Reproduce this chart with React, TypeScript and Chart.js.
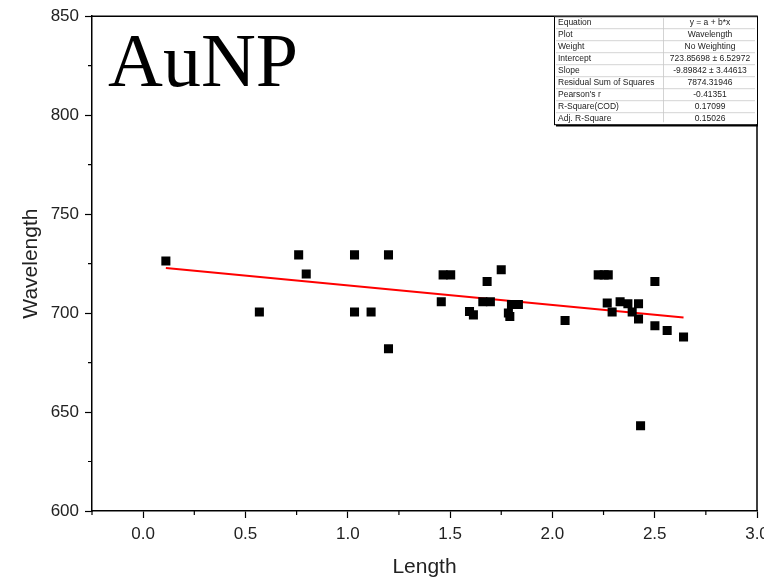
import React, { useEffect, useRef } from 'react';
import { Chart, registerables } from 'chart.js';

Chart.register(...registerables);

// ---- data ----
const lengthValues = [
  0.111, 0.568, 0.760, 0.797, 1.033, 1.199, 1.033, 1.114, 1.199,
  1.457, 1.466, 1.503, 1.750, 1.681, 1.660, 1.697, 1.595, 1.614,
  1.800, 1.834, 1.785, 1.792, 2.062, 2.224, 2.253, 2.273, 2.501,
  2.268, 2.292, 2.331, 2.369, 2.421, 2.390, 2.421, 2.501, 2.561,
  2.641, 2.431,
];
const wavelengthValues = [
  726.3, 700.5, 729.4, 719.7, 729.4, 729.4, 700.5, 700.5, 682.0,
  705.7, 719.3, 719.3, 721.9, 716.0, 705.7, 705.7, 700.8, 699.1,
  704.3, 704.3, 700.0, 698.3, 696.3, 719.3, 719.3, 719.3, 716.0,
  705.1, 700.5, 705.7, 704.7, 704.7, 700.5, 697.0, 693.6, 691.2,
  687.9, 643.1,
];
const fitIntercept = 723.85698;
const fitSlope = -9.89842;

const xTickValues = [0, 0.5, 1, 1.5, 2, 2.5, 3];
const xMinorTickValues = [-0.25, 0.25, 0.75, 1.25, 1.75, 2.25, 2.75];
const yTickValues = [600, 650, 700, 750, 800, 850];
const yMinorTickValues = [625, 675, 725, 775, 825];

const statLabels = [
  'Equation', 'Plot', 'Weight', 'Intercept', 'Slope',
  'Residual Sum of Squares', "Pearson's r", 'R-Square(COD)', 'Adj. R-Square',
];
const statValues = [
  'y = a + b*x', 'Wavelength', 'No Weighting', '723.85698 ± 6.52972',
  '-9.89842 ± 3.44613', '7874.31946', '-0.41351', '0.17099', '0.15026',
];
const panelLabel = 'AuNP';
const xTitle = 'Length';
const yTitle = 'Wavelength';

const SANS = "'Liberation Sans', Arial, sans-serif";

const decorPlugin = {
  id: 'decor',
  afterDraw(chart: any) {
    const { ctx, chartArea: ca, scales } = chart;
    const xs = scales.x;
    const ys = scales.y;
    ctx.save();

    // frame (top & right)
    ctx.strokeStyle = '#000';
    ctx.lineWidth = 1.5;
    ctx.beginPath();
    ctx.moveTo(ca.left, ca.top);
    ctx.lineTo(ca.right, ca.top);
    ctx.lineTo(ca.right, ca.bottom);
    ctx.stroke();

    // minor ticks
    ctx.lineWidth = 1.2;
    ctx.beginPath();
    xMinorTickValues.forEach((v) => {
      const px = xs.getPixelForValue(v);
      ctx.moveTo(px, ca.bottom);
      ctx.lineTo(px, ca.bottom + 4);
    });
    yMinorTickValues.forEach((v) => {
      const py = ys.getPixelForValue(v);
      ctx.moveTo(ca.left, py);
      ctx.lineTo(ca.left - 4, py);
    });
    ctx.stroke();

    // panel label
    ctx.fillStyle = '#000';
    ctx.font = "76px 'Liberation Serif', 'Times New Roman', serif";
    ctx.textAlign = 'left';
    ctx.textBaseline = 'alphabetic';
    ctx.fillText(panelLabel, ca.left + 16, ca.top + 70);

    // stats table
    const rowH = 12;
    const tRight = ca.right;
    const tLeft = tRight - 203;
    const tDiv = tLeft + 109;
    const tTop = ca.top;
    const tBottom = tTop + rowH * statLabels.length;
    ctx.fillStyle = '#fff';
    ctx.fillRect(tLeft, tTop, tRight - tLeft, tBottom - tTop);

    ctx.strokeStyle = '#c8c8c8';
    ctx.lineWidth = 0.8;
    ctx.beginPath();
    for (let i = 1; i < statLabels.length; i++) {
      const yy = tTop + i * rowH + 0.5;
      ctx.moveTo(tLeft + 2, yy);
      ctx.lineTo(tRight - 2, yy);
    }
    ctx.moveTo(tDiv + 0.5, tTop + 2);
    ctx.lineTo(tDiv + 0.5, tBottom - 2);
    ctx.stroke();

    ctx.strokeStyle = '#000';
    ctx.lineWidth = 1;
    ctx.strokeRect(tLeft + 0.5, tTop + 0.5, tRight - tLeft, tBottom - tTop);
    ctx.lineWidth = 1.5;
    ctx.beginPath();
    ctx.moveTo(tLeft + 2, tBottom + 1.5);
    ctx.lineTo(tRight + 1, tBottom + 1.5);
    ctx.stroke();

    ctx.font = `8.5px ${SANS}`;
    ctx.fillStyle = '#222';
    ctx.textBaseline = 'middle';
    statLabels.forEach((lbl, i) => {
      const cy = tTop + i * rowH + rowH / 2 + 0.5;
      ctx.textAlign = 'left';
      ctx.fillText(lbl, tLeft + 4, cy);
      ctx.textAlign = 'center';
      ctx.fillText(statValues[i], (tDiv + tRight) / 2, cy);
    });

    ctx.restore();
  },
};

export default function App() {
  const canvasRef = useRef<HTMLCanvasElement | null>(null);

  useEffect(() => {
    const canvas = canvasRef.current;
    if (!canvas) return;
    const points = lengthValues.map((x, i) => ({ x, y: wavelengthValues[i] }));
    const xMin = Math.min(...lengthValues);
    const xMax = Math.max(...lengthValues);
    const fitLine = [
      { x: xMin, y: fitIntercept + fitSlope * xMin },
      { x: xMax, y: fitIntercept + fitSlope * xMax },
    ];

    const chart = new Chart(canvas, {
      type: 'scatter',
      data: {
        datasets: [
          {
            type: 'line',
            data: fitLine,
            borderColor: '#ff0000',
            borderWidth: 2,
            pointRadius: 0,
            fill: false,
            order: 1,
          } as any,
          {
            data: points,
            pointStyle: 'rect',
            pointRadius: 6.4,
            pointBorderWidth: 0,
            backgroundColor: '#000',
            borderColor: '#000',
            order: 0,
          },
        ],
      },
      options: {
        animation: false,
        responsive: false,
        layout: { padding: { top: 16, right: 23, left: 0, bottom: 0 } },
        plugins: {
          legend: { display: false },
          tooltip: { enabled: false },
        },
        scales: {
          x: {
            type: 'linear',
            min: -0.25,
            max: 3,
            afterBuildTicks: (scale: any) => {
              scale.ticks = xTickValues.map((v) => ({ value: v }));
            },
            afterFit: (scale: any) => {
              scale.height = 70;
            },
            ticks: {
              autoSkip: false,
              maxRotation: 0,
              padding: 6,
              color: '#222',
              font: { family: SANS, size: 17 },
              callback: (v: any) => Number(v).toFixed(1),
            },
            grid: {
              display: true,
              drawOnChartArea: false,
              drawTicks: true,
              tickLength: 7,
              tickColor: '#000',
              tickWidth: 1.2,
            },
            border: { display: true, color: '#000', width: 1.5 },
            title: {
              display: true,
              text: xTitle,
              color: '#222',
              font: { family: SANS, size: 21 },
              padding: { top: 0, bottom: 1 },
            },
          },
          y: {
            type: 'linear',
            min: 600,
            max: 850,
            afterBuildTicks: (scale: any) => {
              scale.ticks = yTickValues.map((v) => ({ value: v }));
            },
            afterFit: (scale: any) => {
              scale.width = 92;
            },
            ticks: {
              autoSkip: false,
              padding: 6,
              color: '#222',
              font: { family: SANS, size: 17 },
              callback: (v: any) => String(v),
            },
            grid: {
              display: true,
              drawOnChartArea: false,
              drawTicks: true,
              tickLength: 7,
              tickColor: '#000',
              tickWidth: 1.2,
            },
            border: { display: true, color: '#000', width: 1.5 },
            title: {
              display: true,
              text: yTitle,
              color: '#222',
              font: { family: SANS, size: 21 },
              padding: { top: 19, bottom: 0 },
            },
          },
        },
      },
      plugins: [decorPlugin],
    });

    return () => {
      chart.destroy();
    };
  }, []);

  return (
    <div
      style={{
        position: 'fixed',
        left: 0,
        top: 0,
        width: 764,
        height: 581,
        overflow: 'hidden',
        background: '#fff',
      }}
    >
      <canvas
        ref={canvasRef}
        width={780}
        height={581}
        style={{ width: 780, height: 581, display: 'block' }}
      />
    </div>
  );
}
